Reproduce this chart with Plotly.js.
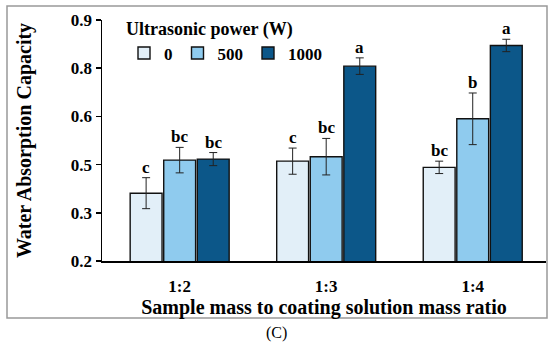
<!DOCTYPE html>
<html>
<head>
<meta charset="utf-8">
<script src="https://cdn.plot.ly/plotly-3.0.1.min.js"></script>
<style>html,body{margin:0;padding:0;background:#fff;}#chart{width:550px;height:345px;}</style>
</head>
<body>
<div id="chart"></div>
<script>
// ---- data ----
var categories = ["1:2", "1:3", "1:4"];
var seriesNames = ["0", "500", "1000"];
var values0 = [0.397, 0.490, 0.472];
var values500 = [0.493, 0.503, 0.613];
var values1000 = [0.496, 0.766, 0.826];
var err0 = [0.045, 0.038, 0.018];
var err500 = [0.037, 0.053, 0.075];
var err1000 = [0.019, 0.024, 0.018];
var letters0 = ["c", "c", "bc"];
var letters500 = ["bc", "bc", "b"];
var letters1000 = ["bc", "a", "a"];
var yTickVals = [0.2, 0.34, 0.48, 0.62, 0.76, 0.9];
var yTickText = ["0.2", "0.3", "0.5", "0.6", "0.8", "0.9"];

var colors = ["#e2eff8", "#8fcbee", "#0c5789"];
var FONT = "'Liberation Serif', 'Times New Roman', serif";

var values = [values0, values500, values1000];
var errs = [err0, err500, err1000];
var letters = [letters0, letters500, letters1000];

function b(t) { return "<b>" + t + "</b>"; }

var bargap = 0.313, bargroupgap = 0.05;
var slot = (1 - bargap) / 3;
var idx = categories.map(function (c, i) { return i; });

var traces = seriesNames.map(function (name, s) {
  return {
    type: "bar",
    name: b(name),
    x: idx,
    y: values[s],
    marker: { color: colors[s], line: { color: "#111", width: 1.4 } },
    error_y: { type: "data", array: errs[s], visible: true, color: "#222", thickness: 1, width: 4 },
    hoverinfo: "y"
  };
});

var annotations = [];
seriesNames.forEach(function (name, s) {
  idx.forEach(function (i) {
    annotations.push({
      x: i + (s - 1) * slot,
      y: values[s][i] + errs[s][i],
      xref: "x", yref: "y",
      text: b(letters[s][i]),
      showarrow: false,
      yanchor: "bottom",
      yshift: -1,
      font: { family: FONT, size: 17, color: "#000" }
    });
  });
});
annotations.push({
  x: (276 - 102) / 444, y: (261 - 333) / 241, xref: "paper", yref: "paper",
  text: "(C)", showarrow: false, xanchor: "center", yanchor: "middle",
  font: { family: FONT, size: 16, color: "#000" }
});

var layout = {
  width: 550, height: 345,
  margin: { l: 102, r: 4, t: 20, b: 84 },
  paper_bgcolor: "#fff", plot_bgcolor: "#fff",
  barmode: "group", bargap: bargap, bargroupgap: bargroupgap,
  font: { family: FONT, color: "#000" },
  showlegend: true,
  legend: {
    orientation: "h",
    x: (124 - 102) / 444, y: (261 - 12) / 241, xanchor: "left", yanchor: "top",
    bgcolor: "rgba(0,0,0,0)",
    font: { family: FONT, size: 17, color: "#000" },
    title: { text: b("Ultrasonic power (W)"), side: "top", font: { family: FONT, size: 18, color: "#000" } },
    itemwidth: 30,
    tracegroupgap: 0
  },
  xaxis: {
    type: "linear",
    range: [-0.53, 2.5],
    tickvals: idx, ticktext: categories.map(b),
    showline: true, linecolor: "#000", linewidth: 1.5,
    ticks: "", showgrid: false, zeroline: false,
    tickfont: { family: FONT, size: 17, color: "#000" },
    ticklabelstandoff: 9,
    title: { text: b("Sample mass to coating solution mass ratio"), font: { family: FONT, size: 20, color: "#000" }, standoff: 4 }
  },
  yaxis: {
    range: [0.2, 0.9],
    tickvals: yTickVals, ticktext: yTickText.map(b),
    showline: true, linecolor: "#000", linewidth: 1.5,
    ticks: "outside", ticklen: 5, tickwidth: 1.5, tickcolor: "#000",
    showgrid: false, zeroline: false,
    tickfont: { family: FONT, size: 17, color: "#000" },
    title: { text: b("Water Absorption Capacity"), font: { family: FONT, size: 20, color: "#000" }, standoff: 34 }
  },
  annotations: annotations,
  shapes: [{
    type: "rect", xref: "paper", yref: "paper",
    x0: (7 - 102) / 444, x1: (547 - 102) / 444,
    y0: (261 - 318) / 241, y1: (261 - 6) / 241,
    line: { color: "#999999", width: 1.5 }, fillcolor: "rgba(0,0,0,0)", layer: "below"
  }]
};

Plotly.newPlot("chart", traces, layout, { displayModeBar: false, staticPlot: true });
</script>
</body>
</html>
